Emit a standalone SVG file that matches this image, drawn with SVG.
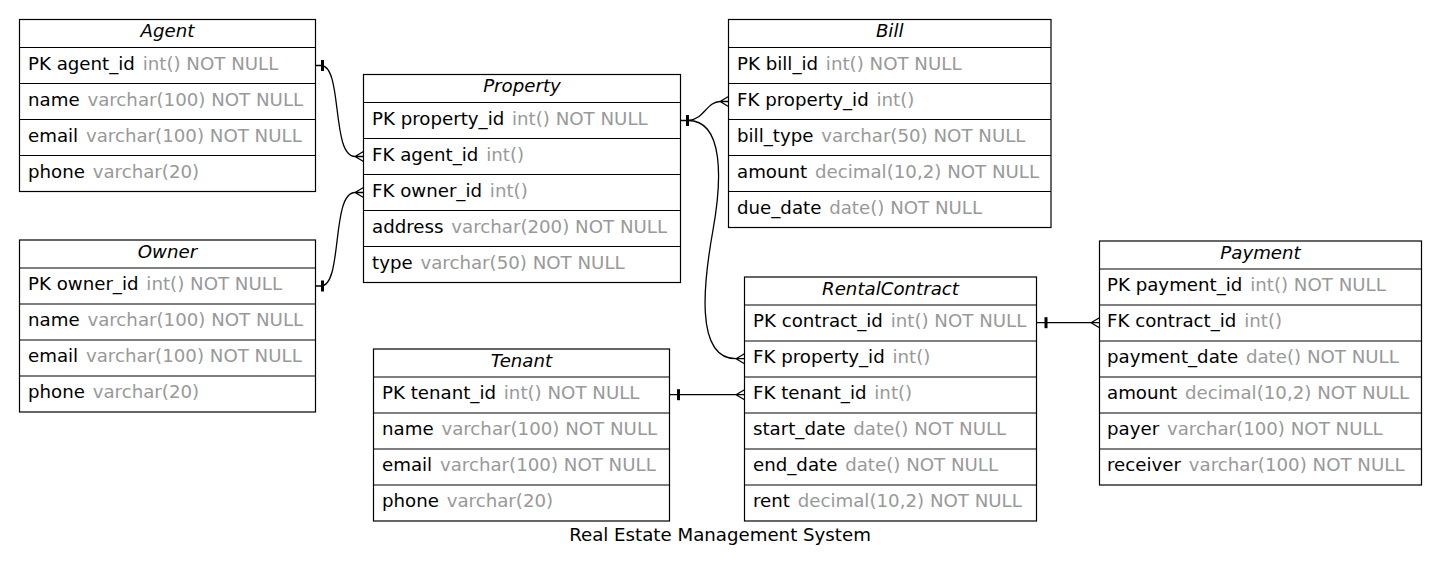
<svg xmlns="http://www.w3.org/2000/svg" width="1441" height="570" viewBox="0 0 1441 570">
<style>
.box{fill:#fff;stroke:#000;stroke-width:1.2}
.sep{stroke:#000;stroke-width:1.2}
text{font-family:"DejaVu Sans","Liberation Sans",sans-serif;font-size:18.2px;fill:#000}
.h{font-style:italic;text-anchor:middle}
.t{fill:#999}
.e{fill:none;stroke:#000;stroke-width:1.3}
.tee{fill:#000}
.title{text-anchor:middle}
</style>
<rect width="1441" height="570" fill="#fff"/>

<g id="agent">
<rect class="box" x="19.5" y="19.5" width="296" height="172"/>
<path class="sep" d="M19.5,47.5H315.5M19.5,83.5H315.5M19.5,119.5H315.5M19.5,155.5H315.5"/>
<text class="h" x="167.5" y="37">Agent</text>
<text x="28" y="69.5">PK agent_id <tspan class="t" dx="2">int() NOT NULL</tspan></text>
<text x="28" y="105.5">name <tspan class="t" dx="2">varchar(100) NOT NULL</tspan></text>
<text x="28" y="141.5">email <tspan class="t" dx="2">varchar(100) NOT NULL</tspan></text>
<text x="28" y="177.5">phone <tspan class="t" dx="2">varchar(20)</tspan></text>
</g>

<g id="owner">
<rect class="box" x="19.5" y="240" width="296" height="172"/>
<path class="sep" d="M19.5,268H315.5M19.5,304H315.5M19.5,340H315.5M19.5,376H315.5"/>
<text class="h" x="167.5" y="257.5">Owner</text>
<text x="28" y="290">PK owner_id <tspan class="t" dx="2">int() NOT NULL</tspan></text>
<text x="28" y="326">name <tspan class="t" dx="2">varchar(100) NOT NULL</tspan></text>
<text x="28" y="362">email <tspan class="t" dx="2">varchar(100) NOT NULL</tspan></text>
<text x="28" y="398">phone <tspan class="t" dx="2">varchar(20)</tspan></text>
</g>

<g id="property">
<rect class="box" x="363.5" y="74.5" width="317" height="208"/>
<path class="sep" d="M363.5,102.5H680.5M363.5,138.5H680.5M363.5,174.5H680.5M363.5,210.5H680.5M363.5,246.5H680.5"/>
<text class="h" x="522" y="92">Property</text>
<text x="372" y="124.5">PK property_id <tspan class="t" dx="2">int() NOT NULL</tspan></text>
<text x="372" y="160.5">FK agent_id <tspan class="t" dx="2">int()</tspan></text>
<text x="372" y="196.5">FK owner_id <tspan class="t" dx="2">int()</tspan></text>
<text x="372" y="232.5">address <tspan class="t" dx="2">varchar(200) NOT NULL</tspan></text>
<text x="372" y="268.5">type <tspan class="t" dx="2">varchar(50) NOT NULL</tspan></text>
</g>

<g id="bill">
<rect class="box" x="728.5" y="19.5" width="322.5" height="208"/>
<path class="sep" d="M728.5,47.5H1051M728.5,83.5H1051M728.5,119.5H1051M728.5,155.5H1051M728.5,191.5H1051"/>
<text class="h" x="889.7" y="37">Bill</text>
<text x="737" y="69.5">PK bill_id <tspan class="t" dx="2">int() NOT NULL</tspan></text>
<text x="737" y="105.5">FK property_id <tspan class="t" dx="2">int()</tspan></text>
<text x="737" y="141.5">bill_type <tspan class="t" dx="2">varchar(50) NOT NULL</tspan></text>
<text x="737" y="177.5">amount <tspan class="t" dx="2">decimal(10,2) NOT NULL</tspan></text>
<text x="737" y="213.5">due_date <tspan class="t" dx="2">date() NOT NULL</tspan></text>
</g>

<g id="payment">
<rect class="box" x="1099.5" y="241" width="322" height="244"/>
<path class="sep" d="M1099.5,269H1421.5M1099.5,305H1421.5M1099.5,341H1421.5M1099.5,377H1421.5M1099.5,413H1421.5M1099.5,449H1421.5"/>
<text class="h" x="1260.5" y="258.5">Payment</text>
<text x="1107" y="291">PK payment_id <tspan class="t" dx="2">int() NOT NULL</tspan></text>
<text x="1107" y="327">FK contract_id <tspan class="t" dx="2">int()</tspan></text>
<text x="1107" y="363">payment_date <tspan class="t" dx="2">date() NOT NULL</tspan></text>
<text x="1107" y="399">amount <tspan class="t" dx="2">decimal(10,2) NOT NULL</tspan></text>
<text x="1107" y="435">payer <tspan class="t" dx="2">varchar(100) NOT NULL</tspan></text>
<text x="1107" y="471">receiver <tspan class="t" dx="2">varchar(100) NOT NULL</tspan></text>
</g>

<g id="rentalcontract">
<rect class="box" x="744.5" y="277" width="292" height="244"/>
<path class="sep" d="M744.5,305H1036.5M744.5,341H1036.5M744.5,377H1036.5M744.5,413H1036.5M744.5,449H1036.5M744.5,485H1036.5"/>
<text class="h" x="890.5" y="294.5">RentalContract</text>
<text x="753" y="327">PK contract_id <tspan class="t" dx="2">int() NOT NULL</tspan></text>
<text x="753" y="363">FK property_id <tspan class="t" dx="2">int()</tspan></text>
<text x="753" y="399">FK tenant_id <tspan class="t" dx="2">int()</tspan></text>
<text x="753" y="435">start_date <tspan class="t" dx="2">date() NOT NULL</tspan></text>
<text x="753" y="471">end_date <tspan class="t" dx="2">date() NOT NULL</tspan></text>
<text x="753" y="507">rent <tspan class="t" dx="2">decimal(10,2) NOT NULL</tspan></text>
</g>

<g id="tenant">
<rect class="box" x="373.5" y="349" width="296" height="172"/>
<path class="sep" d="M373.5,377H669.5M373.5,413H669.5M373.5,449H669.5M373.5,485H669.5"/>
<text class="h" x="521.5" y="366.5">Tenant</text>
<text x="382" y="399">PK tenant_id <tspan class="t" dx="2">int() NOT NULL</tspan></text>
<text x="382" y="435">name <tspan class="t" dx="2">varchar(100) NOT NULL</tspan></text>
<text x="382" y="471">email <tspan class="t" dx="2">varchar(100) NOT NULL</tspan></text>
<text x="382" y="507">phone <tspan class="t" dx="2">varchar(20)</tspan></text>
</g>

<g id="connectors">
<path class="e" d="M315.5,65.5 L321,65.5 C343,65.5 331,156.5 355,156.5 L363.5,156.5 M355,156.5 L363.5,151.5 M355,156.5 L363.5,161.5"/>
<rect class="tee" x="321" y="60" width="3" height="11"/>
<path class="e" d="M315.5,286 L321,286 C343,286 331,192.5 355,192.5 L363.5,192.5 M355,192.5 L363.5,187.5 M355,192.5 L363.5,197.5"/>
<rect class="tee" x="321" y="280.5" width="3" height="11"/>
<path class="e" d="M680.5,120.5 L688,120.5 C703,120.5 707,101.5 720,101.5 L728.5,101.5 M720,101.5 L728.5,96.5 M720,101.5 L728.5,106.5"/>
<path class="e" d="M688,120.5 C724,120.5 722,180 713,230 C704,280 694,358.7 736,358.7 L744.5,358.7 M736,358.7 L744.5,353.7 M736,358.7 L744.5,363.7"/>
<rect class="tee" x="686" y="115" width="3" height="11"/>
<path class="e" d="M669.5,394.7 L744.5,394.7 M736,394.7 L744.5,389.7 M736,394.7 L744.5,399.7"/>
<rect class="tee" x="677" y="389.2" width="3" height="11"/>
<path class="e" d="M1036.5,322.7 L1099.5,322.7 M1091,322.7 L1099.5,317.7 M1091,322.7 L1099.5,327.7"/>
<rect class="tee" x="1044.5" y="317.2" width="3" height="11"/>
</g>

<text class="title" x="720" y="541">Real Estate Management System</text>
</svg>
